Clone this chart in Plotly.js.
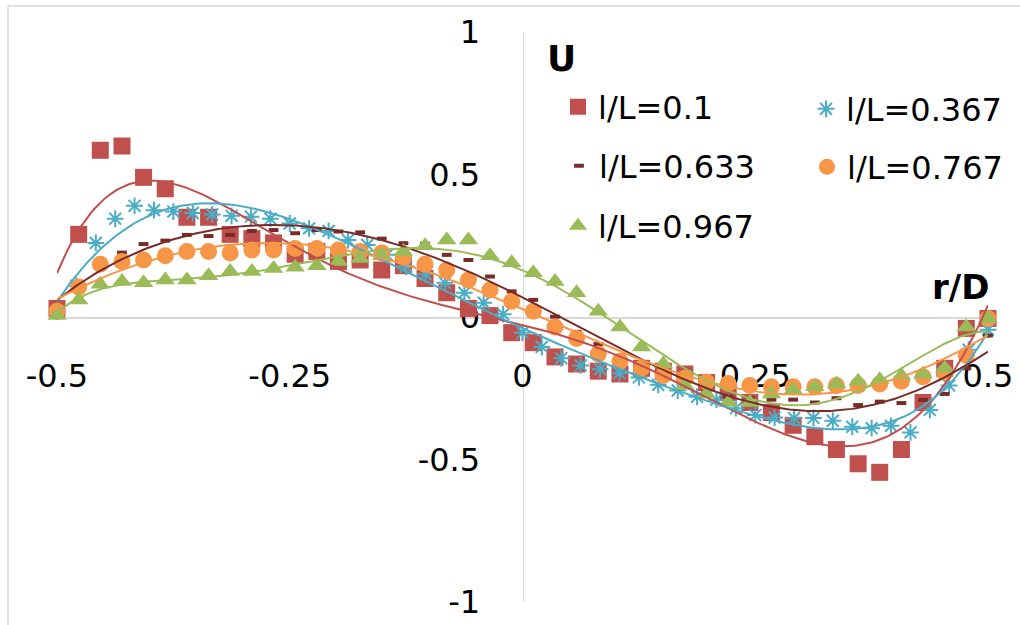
<!DOCTYPE html>
<html>
<head>
<meta charset="utf-8">
<script src="https://cdn.plot.ly/plotly-3.0.1.min.js"></script>
<style>html,body{margin:0;padding:0;background:#fff;}#chart{width:1020px;height:625px;}</style>
</head>
<body>
<div id="chart"></div>
<script>
// r/D positions (44 stations) for l/L = 0.1, 0.633, 0.767, 0.967
const rA = [-0.5,-0.4767,-0.4535,-0.4302,-0.4070,-0.3837,-0.3605,-0.3372,-0.3140,-0.2907,-0.2674,-0.2442,-0.2209,-0.1977,-0.1744,-0.1512,-0.1279,-0.1047,-0.0814,-0.0581,-0.0349,-0.0116,
  0.0116,0.0349,0.0581,0.0814,0.1047,0.1279,0.1512,0.1744,0.1977,0.2209,0.2442,0.2674,0.2907,0.3140,0.3372,0.3605,0.3837,0.4070,0.4302,0.4535,0.4767,0.5];
// r/D positions (49 stations) for l/L = 0.367
const rB = [-0.5,-0.4792,-0.4583,-0.4375,-0.4167,-0.3958,-0.375,-0.3542,-0.3333,-0.3125,-0.2917,-0.2708,-0.25,-0.2292,-0.2083,-0.1875,-0.1667,-0.1458,-0.125,-0.1042,-0.0833,-0.0625,-0.0417,-0.0208,0,
  0.0208,0.0417,0.0625,0.0833,0.1042,0.125,0.1458,0.1667,0.1875,0.2083,0.2292,0.25,0.2708,0.2917,0.3125,0.3333,0.3542,0.375,0.3958,0.4167,0.4375,0.4583,0.4792,0.5];

const u010 = [0.03,0.29,0.585,0.60,0.49,0.45,0.35,0.35,0.29,0.275,0.26,0.22,0.23,0.195,0.20,0.165,0.18,0.135,0.085,0.03,0.005,-0.055,
  -0.09,-0.14,-0.165,-0.19,-0.20,-0.18,-0.19,-0.20,-0.23,-0.265,-0.30,-0.335,-0.38,-0.42,-0.465,-0.515,-0.545,-0.465,-0.30,-0.18,-0.04,-0.005];
const u0367 = [0.02,0.11,0.26,0.345,0.39,0.375,0.37,0.365,0.36,0.355,0.352,0.345,0.328,0.311,0.302,0.27,0.253,0.218,0.177,0.15,0.12,0.085,0.05,0.01,-0.055,
  -0.105,-0.145,-0.17,-0.183,-0.197,-0.212,-0.238,-0.258,-0.28,-0.29,-0.32,-0.344,-0.353,-0.355,-0.354,-0.364,-0.385,-0.39,-0.382,-0.405,-0.326,-0.24,-0.115,-0.045];
const u0633 = [0.02,0.12,0.20,0.226,0.256,0.268,0.288,0.284,0.288,0.302,0.305,0.294,0.305,0.30,0.297,0.275,0.259,0.257,0.218,0.20,0.142,0.09,
  0.06,0.001,-0.052,-0.095,-0.14,-0.18,-0.21,-0.24,-0.26,-0.28,-0.285,-0.29,-0.29,-0.30,-0.285,-0.309,-0.297,-0.302,-0.291,-0.27,-0.18,-0.065];
const u0767 = [0.02,0.105,0.185,0.195,0.20,0.215,0.23,0.23,0.225,0.235,0.235,0.24,0.24,0.235,0.23,0.225,0.21,0.185,0.165,0.13,0.095,0.055,
  0.02,-0.035,-0.075,-0.13,-0.155,-0.18,-0.205,-0.215,-0.228,-0.233,-0.24,-0.245,-0.245,-0.245,-0.24,-0.24,-0.235,-0.225,-0.21,-0.195,-0.135,-0.005];
const u0967 = [0.005,0.06,0.115,0.125,0.12,0.13,0.13,0.145,0.16,0.16,0.17,0.175,0.18,0.195,0.205,0.215,0.23,0.25,0.27,0.27,0.215,0.19,
  0.155,0.125,0.085,0.02,-0.035,-0.105,-0.165,-0.24,-0.27,-0.30,-0.30,-0.27,-0.255,-0.245,-0.235,-0.225,-0.22,-0.205,-0.20,-0.18,-0.035,-0.005];

const seriesNames = ['l/L=0.1','l/L=0.367','l/L=0.633','l/L=0.767','l/L=0.967'];
const xTickVals = [-0.5,-0.25,0,0.25,0.5];
const xTickText = ['-0.5','-0.25','0','0.25','0.5'];
const yTickVals = [-1,-0.5,0,0.5,1];
const yTickText = ['-1','-0.5','0','0.5','1'];

// least-squares polynomial trendline (like a spreadsheet "polynomial" trendline)
function polyfit(xs, ys, order){
  const n = order + 1;
  const A = [], b = [];
  for(let i=0;i<n;i++){ A.push(new Array(n).fill(0)); b.push(0); }
  for(let k=0;k<xs.length;k++){
    for(let i=0;i<n;i++){
      b[i] += ys[k]*Math.pow(xs[k], i);
      for(let j=0;j<n;j++) A[i][j] += Math.pow(xs[k], i+j);
    }
  }
  for(let c=0;c<n;c++){
    let p=c; for(let r=c+1;r<n;r++) if(Math.abs(A[r][c])>Math.abs(A[p][c])) p=r;
    [A[c],A[p]]=[A[p],A[c]]; [b[c],b[p]]=[b[p],b[c]];
    for(let r=c+1;r<n;r++){ const f=A[r][c]/A[c][c]; for(let j=c;j<n;j++) A[r][j]-=f*A[c][j]; b[r]-=f*b[c]; }
  }
  const coef=new Array(n).fill(0);
  for(let r=n-1;r>=0;r--){ let s=b[r]; for(let j=r+1;j<n;j++) s-=A[r][j]*coef[j]; coef[r]=s/A[r][r]; }
  return coef;
}
function trend(xs, ys, order){
  const c = polyfit(xs, ys, order);
  const tx=[], ty=[];
  const x0=xs[0], x1=xs[xs.length-1];
  for(let i=0;i<=300;i++){
    const x = x0 + (x1-x0)*i/300;
    let y=0; for(let k=c.length-1;k>=0;k--) y = y*x + c[k];
    tx.push(x); ty.push(y);
  }
  return {x:tx, y:ty};
}

const colors = ['#C0504D','#4BACC6','#772C2A','#F79646','#9BBB59'];
const xs = [rA, rB, rA, rA, rA];
const ys = [u010, u0367, u0633, u0767, u0967];
const markers = [
  {symbol:'square', size:17, color:colors[0]},
  {symbol:'asterisk-open', size:14, color:colors[1], line:{color:colors[1], width:2}},
  {symbol:'line-ew-open', size:7, color:colors[2], line:{color:colors[2], width:4}},
  {symbol:'circle', size:17, color:colors[3]},
  {symbol:'triangle-up', size:17, color:colors[4]}
];
const legendIds = ['legend','legend2','legend3','legend4','legend5'];

const traces = [];
for(let s=0;s<5;s++){
  traces.push({type:'scatter', mode:'markers', x:xs[s], y:ys[s], name:seriesNames[s],
    marker:markers[s], legend:legendIds[s], cliponaxis:false, hoverinfo:'skip'});
}
for(let s=0;s<5;s++){
  const t = trend(xs[s], ys[s], 6);
  traces.push({type:'scatter', mode:'lines', x:t.x, y:t.y, showlegend:false,
    line:{color:colors[s], width:2}, hoverinfo:'skip'});
}

const W=1020, H=625, L=57, R=32, T=32, B=23;
const pw=W-L-R, ph=H-T-B;
function px2x(px){ return (px-L)/pw; }
function py2y(py){ return (H-B-py)/ph; }

const legFont = {family:'DejaVu Sans', size:32, color:'#000'};
function leg(mx, my){
  return {x:px2x(mx-20), y:py2y(my), xanchor:'left', yanchor:'middle', xref:'paper', yref:'paper',
    bgcolor:'rgba(0,0,0,0)', borderwidth:0, font:legFont, itemsizing:'trace'};
}

const layout = {
  width:W, height:H,
  margin:{l:L, r:R, t:T, b:B, pad:0},
  paper_bgcolor:'#fff', plot_bgcolor:'#fff',
  font:{family:'DejaVu Sans', color:'#000'},
  xaxis:{range:[-0.5,0.5], anchor:'free', position:0.5, showline:true, linecolor:'#D9D9D9', linewidth:1.5,
    showgrid:false, zeroline:false, ticks:'', tickvals:xTickVals, ticktext:xTickText,
    tickfont:{family:'DejaVu Sans', size:32, color:'#000'}, ticklabelstandoff:30, layer:'below traces', fixedrange:true},
  yaxis:{range:[-1,1], anchor:'free', position:0.5, showline:true, linecolor:'#D9D9D9', linewidth:1.5,
    showgrid:false, zeroline:false, ticks:'', tickvals:yTickVals, ticktext:yTickText,
    tickfont:{family:'DejaVu Sans', size:32, color:'#000'}, ticklabelstandoff:36, layer:'below traces', fixedrange:true},
  legend:leg(578,107), legend2:leg(826,109), legend3:leg(579,166), legend4:leg(827,167), legend5:leg(578,226),
  annotations:[
    {text:'U', xref:'paper', yref:'paper', x:px2x(561), y:py2y(58), xanchor:'center', yanchor:'middle', showarrow:false,
      font:{family:'DejaVu Sans', size:36, weight:'bold', color:'#000'}},
    {text:'r/D', xref:'paper', yref:'paper', x:px2x(960), y:py2y(287), xanchor:'center', yanchor:'middle', showarrow:false,
      font:{family:'DejaVu Sans', size:34, weight:'bold', color:'#000'}}
  ],
  shapes:[
    {type:'rect', xref:'paper', yref:'paper', x0:px2x(8), x1:px2x(1040), y0:py2y(640), y1:py2y(6),
      line:{color:'#D9D9D9', width:1.5}, fillcolor:'rgba(0,0,0,0)', layer:'below'}
  ],
  showlegend:true
};

Plotly.newPlot('chart', traces, layout, {displayModeBar:false, staticPlot:true});
</script>
</body>
</html>
